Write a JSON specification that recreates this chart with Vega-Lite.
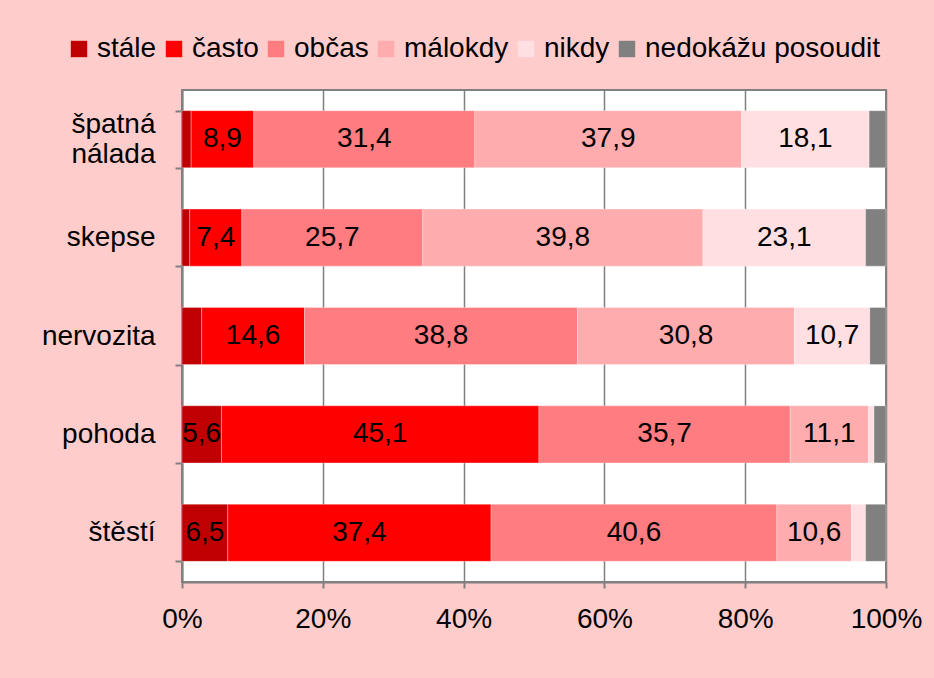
{
  "$schema": "https://vega.github.io/schema/vega-lite/v6.json",
  "width": 704,
  "height": 492,
  "autosize": {"type": "none"},
  "padding": {"left": 182, "top": 90, "right": 48, "bottom": 96},
  "background": "#FFCCCC",
  "config": {
    "font": "Liberation Sans",
    "view": {"fill": "#FFFFFF", "stroke": "#808080", "strokeWidth": 2},
    "axis": {"labelFont": "Liberation Sans", "labelFontSize": 28, "labelColor": "#000000", "domainColor": "#808080", "domainWidth": 2, "tickColor": "#808080", "tickWidth": 2, "gridColor": "#808080", "gridWidth": 1.5}
  },
  "data": {
    "values": [
      {"q": "špatná nálada", "c": "stále", "v": 1.3},
      {"q": "špatná nálada", "c": "často", "v": 8.9},
      {"q": "špatná nálada", "c": "občas", "v": 31.4},
      {"q": "špatná nálada", "c": "málokdy", "v": 37.9},
      {"q": "špatná nálada", "c": "nikdy", "v": 18.1},
      {"q": "špatná nálada", "c": "nedokážu posoudit", "v": 2.4},
      {"q": "skepse", "c": "stále", "v": 1.1},
      {"q": "skepse", "c": "často", "v": 7.4},
      {"q": "skepse", "c": "občas", "v": 25.7},
      {"q": "skepse", "c": "málokdy", "v": 39.8},
      {"q": "skepse", "c": "nikdy", "v": 23.1},
      {"q": "skepse", "c": "nedokážu posoudit", "v": 2.9},
      {"q": "nervozita", "c": "stále", "v": 2.8},
      {"q": "nervozita", "c": "často", "v": 14.6},
      {"q": "nervozita", "c": "občas", "v": 38.8},
      {"q": "nervozita", "c": "málokdy", "v": 30.8},
      {"q": "nervozita", "c": "nikdy", "v": 10.7},
      {"q": "nervozita", "c": "nedokážu posoudit", "v": 2.3},
      {"q": "pohoda", "c": "stále", "v": 5.6},
      {"q": "pohoda", "c": "často", "v": 45.1},
      {"q": "pohoda", "c": "občas", "v": 35.7},
      {"q": "pohoda", "c": "málokdy", "v": 11.1},
      {"q": "pohoda", "c": "nikdy", "v": 0.8},
      {"q": "pohoda", "c": "nedokážu posoudit", "v": 1.7},
      {"q": "štěstí", "c": "stále", "v": 6.5},
      {"q": "štěstí", "c": "často", "v": 37.4},
      {"q": "štěstí", "c": "občas", "v": 40.6},
      {"q": "štěstí", "c": "málokdy", "v": 10.6},
      {"q": "štěstí", "c": "nikdy", "v": 2.0},
      {"q": "štěstí", "c": "nedokážu posoudit", "v": 2.9}
    ]
  },
  "transform": [
    {"calculate": "indexof(['stále','často','občas','málokdy','nikdy','nedokážu posoudit'], datum.c)", "as": "o"},
    {"stack": "v", "groupby": ["q"], "sort": [{"field": "o", "order": "ascending"}], "offset": "normalize", "as": ["v0", "v1"]},
    {"calculate": "(datum.v0 + datum.v1) / 2", "as": "vm"},
    {"calculate": "replace(format(datum.v, '.1f'), '.', ',')", "as": "lbl"}
  ],
  "encoding": {
    "y": {
      "field": "q", "type": "nominal",
      "sort": ["špatná nálada", "skepse", "nervozita", "pohoda", "štěstí"],
      "scale": {"paddingInner": 0.42, "paddingOuter": 0.21},
      "axis": {"title": null, "tickBand": "extent", "tickSize": 7, "labelPadding": 20, "labelExpr": "split(datum.label, ' ')", "labelLineHeight": 30,
        "labelOffset": {"condition": {"test": "datum.value == 'špatná nálada'", "value": -15}, "value": 0}}
    }
  },
  "layer": [
    {
      "mark": {"type": "bar", "stroke": "#FFFFFF", "strokeWidth": 0.5, "strokeOpacity": 0.6},
      "encoding": {
        "x": {"field": "v0", "type": "quantitative", "scale": {"domain": [0, 1], "nice": false},
          "axis": {"title": null, "format": ".0%", "values": [0, 0.2, 0.4, 0.6, 0.8, 1], "grid": true, "tickSize": 6, "labelPadding": 17, "labelFlush": false}},
        "x2": {"field": "v1"},
        "color": {
          "field": "c", "type": "nominal",
          "scale": {"domain": ["stále", "často", "občas", "málokdy", "nikdy", "nedokážu posoudit"],
            "range": ["#C00000", "#FF0000", "#FF7C80", "#FFACAE", "#FFDFE1", "#808080"]},
          "legend": {"title": null, "orient": "none", "legendX": -117, "legendY": -55, "direction": "horizontal", "columns": 6,
            "symbolType": "square", "symbolSize": 270, "symbolStrokeWidth": 0, "labelFontSize": 28, "labelFont": "Liberation Sans", "labelColor": "#000000", "labelOffset": 4, "columnPadding": 3, "labelLimit": 400}
        }
      }
    },
    {
      "transform": [{"filter": "datum.v >= 5"}],
      "mark": {"type": "text", "fontSize": 28, "font": "Liberation Sans", "color": "#000000", "baseline": "middle", "align": "center"},
      "encoding": {
        "x": {"field": "vm", "type": "quantitative"},
        "text": {"field": "lbl"}
      }
    }
  ]
}
